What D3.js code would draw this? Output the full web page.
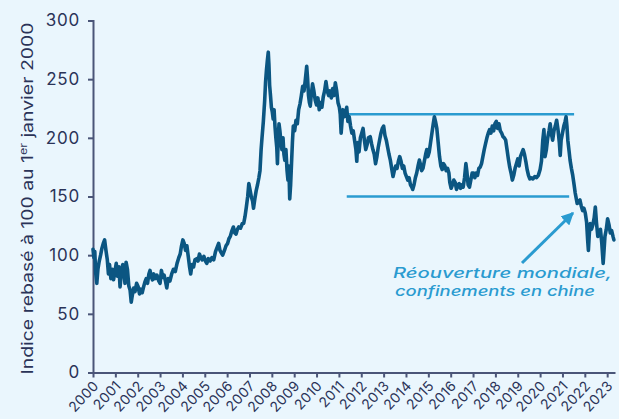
<!DOCTYPE html>
<html><head><meta charset="utf-8">
<script src="https://cdn.jsdelivr.net/npm/d3@7"></script>
<style>
html,body{margin:0;padding:0;background:#eaf6fd;}
svg{display:block;}
</style></head><body>
<svg id="c" width="619" height="419"></svg>
<script>
// Dates as decimal years, values indexed to 100 on 1 Jan 2000
const dates = [2000.00,2000.04,2000.08,2000.12,2000.17,2000.22,2000.28,2000.34,2000.40,2000.46,2000.52,2000.58,2000.64,2000.69,2000.74,2000.80,2000.86,2000.92,2000.98,
2001.04,2001.10,2001.16,2001.21,2001.27,2001.33,2001.38,2001.43,2001.48,2001.54,2001.60,2001.66,2001.71,2001.76,2001.82,2001.88,2001.95,
2002.02,2002.08,2002.14,2002.20,2002.25,2002.32,2002.38,2002.44,2002.50,2002.55,2002.60,2002.66,2002.72,2002.78,2002.86,2002.94,
2003.00,2003.06,2003.12,2003.18,2003.24,2003.30,2003.36,2003.44,2003.52,2003.60,2003.68,2003.76,2003.84,2003.90,2003.96,
2004.02,2004.08,2004.14,2004.20,2004.26,2004.32,2004.37,2004.43,2004.50,2004.56,2004.64,2004.70,2004.76,2004.82,2004.88,2004.96,
2005.03,2005.09,2005.16,2005.24,2005.32,2005.40,2005.48,2005.56,2005.62,2005.68,2005.74,2005.80,2005.88,2005.95,
2006.02,2006.08,2006.14,2006.20,2006.28,2006.34,2006.40,2006.46,2006.52,2006.60,2006.68,2006.74,2006.80,2006.86,2006.92,2006.97,
2007.02,2007.08,2007.14,2007.18,2007.24,2007.30,2007.36,2007.42,2007.47,2007.52,2007.56,2007.62,2007.68,2007.72,2007.76,2007.80,2007.84,2007.87,2007.90,2007.94,2007.98,
2008.02,2008.06,2008.10,2008.14,2008.18,2008.22,2008.25,2008.28,2008.32,2008.36,2008.40,2008.45,2008.50,2008.54,2008.58,2008.63,2008.68,2008.72,2008.76,2008.80,2008.84,2008.88,2008.92,2008.96,
2009.02,2009.08,2009.14,2009.20,2009.26,2009.32,2009.38,2009.44,2009.50,2009.56,2009.60,2009.64,2009.68,2009.72,2009.76,2009.82,2009.88,2009.94,
2010.00,2010.06,2010.12,2010.18,2010.24,2010.30,2010.36,2010.42,2010.48,2010.54,2010.60,2010.66,2010.72,2010.78,2010.84,2010.90,2010.96,
2011.02,2011.06,2011.10,2011.14,2011.18,2011.24,2011.30,2011.35,2011.40,2011.46,2011.52,2011.58,2011.64,2011.70,2011.76,2011.80,2011.84,2011.90,2011.96,
2012.02,2012.08,2012.14,2012.20,2012.26,2012.32,2012.40,2012.46,2012.52,2012.58,2012.64,2012.70,2012.76,2012.82,2012.88,2012.94,
2013.00,2013.06,2013.12,2013.18,2013.24,2013.30,2013.36,2013.42,2013.48,2013.54,2013.60,2013.66,2013.72,2013.78,2013.84,2013.90,2013.96,
2014.02,2014.08,2014.14,2014.20,2014.26,2014.30,2014.36,2014.42,2014.48,2014.54,2014.60,2014.64,2014.70,2014.76,2014.82,2014.88,2014.93,2014.98,
2015.04,2015.10,2015.16,2015.22,2015.27,2015.32,2015.38,2015.44,2015.50,2015.56,2015.62,2015.68,2015.74,2015.80,2015.86,2015.92,2015.96,
2016.02,2016.08,2016.14,2016.20,2016.26,2016.32,2016.38,2016.44,2016.50,2016.56,2016.62,2016.68,2016.72,2016.78,2016.84,2016.90,2016.96,
2017.02,2017.08,2017.14,2017.20,2017.26,2017.32,2017.38,2017.44,2017.50,2017.56,2017.62,2017.68,2017.74,2017.80,2017.86,2017.92,2017.98,
2018.04,2018.10,2018.16,2018.22,2018.28,2018.34,2018.40,2018.46,2018.52,2018.58,2018.64,2018.70,2018.76,2018.82,2018.88,2018.94,
2019.00,2019.06,2019.12,2019.18,2019.24,2019.30,2019.36,2019.42,2019.48,2019.54,2019.60,2019.68,2019.76,2019.84,2019.92,
2020.00,2020.06,2020.12,2020.17,2020.22,2020.28,2020.34,2020.40,2020.45,2020.50,2020.56,2020.62,2020.68,2020.74,2020.80,2020.86,2020.90,2020.94,
2021.00,2021.06,2021.12,2021.16,2021.20,2021.24,2021.30,2021.34,2021.40,2021.46,2021.52,2021.57,2021.62,2021.66,2021.72,2021.78,2021.84,2021.90,2021.96,
2022.02,2022.08,2022.13,2022.16,2022.20,2022.24,2022.30,2022.36,2022.42,2022.47,2022.52,2022.58,2022.64,2022.70,2022.76,2022.82,2022.86,2022.90,2022.96,
2023.02,2023.08,2023.14,2023.20,2023.26,2023.30];
const values = [105,98,103,85,76,88,95,100,106,110,113,104,96,84,92,80,88,79,86,
93,82,90,73,85,92,87,76,94,88,74,70,60,66,72,69,76,
73,67,71,68,72,77,80,76,84,87,82,79,84,80,83,78,
76,87,81,83,78,72,80,78,84,88,86,93,98,101,108,
113,110,104,108,99,90,84,92,90,96,97,95,101,98,96,99,
95,93,97,95,98,96,103,107,110,104,102,100,104,108,
110,114,116,120,124,119,118,122,124,123,127,127,133,141,150,161,
156,150,146,140,148,155,160,166,172,190,200,214,232,248,258,266,273,262,245,236,226,
222,216,224,210,200,192,178,196,212,206,198,190,200,186,181,190,172,164,176,148,160,178,196,210,
206,215,212,224,229,236,244,240,250,261,250,236,230,227,236,246,240,232,
228,234,224,230,226,235,240,248,240,236,240,234,242,236,247,240,230,
226,220,204,214,224,218,222,226,214,218,210,204,206,198,190,180,196,188,200,
204,208,198,190,194,200,201,195,190,186,178,184,192,198,204,208,
210,202,198,192,186,181,174,167,172,176,174,180,184,180,174,176,170,
167,164,166,160,158,156,160,166,170,176,181,178,172,174,180,186,190,184,
188,196,204,212,218,214,208,196,184,176,173,178,176,172,174,170,162,
157,160,164,162,156,160,161,157,160,158,166,178,172,160,158,164,170,
170,166,170,168,174,175,178,184,190,195,200,204,207,204,210,206,212,
214,208,212,206,204,201,200,198,190,182,175,170,164,168,174,178,
182,176,184,187,190,186,180,173,168,165,166,165,167,166,168,
173,180,198,207,184,190,200,206,212,204,198,206,210,215,207,196,185,198,
204,210,214,218,210,198,188,181,174,168,160,153,148,144,146,147,142,138,140,
136,128,112,104,118,127,122,126,132,141,128,116,120,122,110,93,104,116,122,
131,126,119,121,116,113];

const yTicks = [0,50,100,150,200,250,300];
const xTicks = d3.range(2000, 2024);
// trading range (support / resistance) lines
const rangeLevels = [220, 150];
const rangeStart = [2011.42, 2011.35];
const rangeEnd = [2021.52, 2021.30];
const annotationLines = ["Réouverture mondiale,", "confinements en chine"];

const svg = d3.select("#c");
svg.append("rect").attr("width",619).attr("height",419).attr("fill","#eaf6fd");

const x = d3.scaleLinear().domain([2000, 2023.35]).range([93, 615]);
const y = d3.scaleLinear().domain([0, 300]).range([372.5, 20.5]);

const axisColor = "#4a5578";
const textColor = "#2a3358";
const fontFam = "Inter, 'Noto Sans', sans-serif";

// Y axis
const gy = svg.append("g").attr("transform","translate(93,0)")
  .call(d3.axisLeft(y).tickValues(yTicks).tickSize(5).tickPadding(8));
gy.select(".domain").attr("stroke",axisColor).attr("stroke-width",2);
gy.selectAll(".tick line").attr("stroke",axisColor).attr("stroke-width",2);
gy.selectAll(".tick text").attr("fill",textColor).attr("font-family",fontFam)
  .attr("font-size",17).attr("letter-spacing","0.8px").attr("font-weight",400);

// X axis
const gx = svg.append("g").attr("transform","translate(0,372.5)")
  .call(d3.axisBottom(x).tickValues(xTicks).tickFormat(d3.format("d")).tickSize(5).tickSizeOuter(0));
gx.select(".domain").attr("stroke",axisColor).attr("stroke-width",2);
gx.selectAll(".tick line").attr("stroke",axisColor).attr("stroke-width",2);
gx.selectAll(".tick text").attr("fill",textColor).attr("font-family",fontFam)
  .attr("font-size",14).attr("letter-spacing","0.3px").attr("text-anchor","end")
  .attr("transform","translate(6,14) rotate(-47)").attr("x",0).attr("y",0).attr("dy",0);

// Y label
const yl = svg.append("text").attr("transform","translate(33,198.5) rotate(-90)")
  .attr("text-anchor","middle").attr("fill",textColor).attr("font-family",fontFam)
  .attr("font-size",15.5).attr("textLength",352).attr("lengthAdjust","spacingAndGlyphs");
yl.append("tspan").text("Indice rebasé à 100 au 1");
yl.append("tspan").text("er").attr("font-size",10).attr("dy",-6);
yl.append("tspan").text(" janvier 2000").attr("dy",6);

// range lines
const rangeColor = "#2a9bd0";
svg.append("g").selectAll("line").data(rangeLevels).join("line")
  .attr("x1",(d,i)=>x(rangeStart[i])).attr("x2",(d,i)=>x(rangeEnd[i]))
  .attr("y1",d=>y(d)).attr("y2",d=>y(d))
  .attr("stroke",rangeColor).attr("stroke-width",2.5);

// series line
const pts = dates.map((d,i)=>[d, values[i]]);
svg.append("path").datum(pts)
  .attr("d", d3.line().x(d=>x(d[0])).y(d=>y(d[1])))
  .attr("fill","none").attr("stroke","#0b5682").attr("stroke-width",3.6)
  .attr("stroke-linejoin","round").attr("stroke-linecap","round");

// arrow
svg.append("defs").append("marker").attr("id","ah").attr("viewBox","0 0 10 10")
  .attr("refX",9).attr("refY",5).attr("markerWidth",4.2).attr("markerHeight",4.2)
  .attr("orient","auto").append("path").attr("d","M0,0L10,5L0,10z").attr("fill",rangeColor);
svg.append("line").attr("x1",522).attr("y1",263).attr("x2",573).attr("y2",213)
  .attr("stroke",rangeColor).attr("stroke-width",3).attr("marker-end","url(#ah)");

// annotation
svg.append("g").selectAll("text").data(annotationLines).join("text")
  .attr("x",(d,i)=> i===0 ? 393 : 395).attr("y",(d,i)=>278 + i*17.5)
  .attr("fill",rangeColor).attr("font-family",fontFam).attr("font-style","italic")
  .attr("font-weight",500).attr("font-size",14.5)
  .attr("textLength",(d,i)=> i===0 ? 219 : 200).attr("lengthAdjust","spacingAndGlyphs")
  .text(d=>d);
</script></body></html>
